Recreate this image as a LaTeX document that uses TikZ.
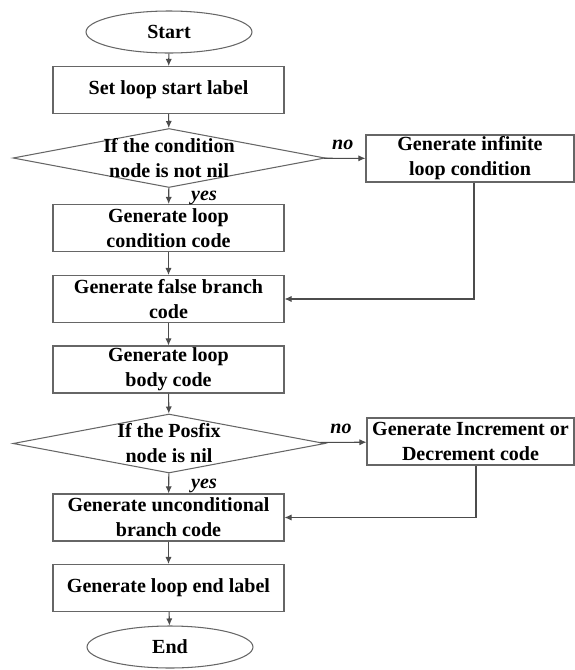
\documentclass[tikz,border=0pt]{standalone}
\usepackage{fontspec}
\setmainfont{Liberation Serif}
\usetikzlibrary{shapes.geometric,arrows.meta}
\begin{document}
\begin{tikzpicture}[x=0.02cm, y=-0.02cm, font=\fontsize{11.4}{14.2}\selectfont\bfseries,
	every node/.style={draw=black!60, line width=0.6pt, align=center, inner sep=0pt},
	box/.style={rectangle, minimum width=4.62cm, minimum height=0.94cm},
	term/.style={ellipse, minimum width=3.32cm, minimum height=0.84cm},
	decision/.style={diamond, minimum width=6.24cm, minimum height=1.18cm},
	lbl/.style={draw=none, font=\fontsize{11.4}{14.2}\selectfont\bfseries\itshape},
	flow/.style={-{Latex[length=4pt,width=3.5pt]}, draw=black!70, line width=0.6pt}]
		\useasboundingbox (0,0) rectangle (575,670);
		\node[term] (start) at (169,32) {Start};
		\node[box] (setlbl) at (168.5,90) {Set loop start label};
		\node[decision, label={[draw=none]center:If the condition\\node is not nil}] (cond) at (169,158) {};
		\node[box, minimum width=4.16cm] (infcond) at (470,158.5) {Generate infinite\\loop condition};
		\node[box] (loopcond) at (168.5,228) {Generate loop\\condition code};
		\node[box] (falsebr) at (168.5,299) {Generate false branch\\code};
		\node[box] (body) at (168.5,369.5) {Generate loop\\body code};
		\node[decision, label={[draw=none]center:If the Posfix\\node is nil}] (posfix) at (169,443.5) {};
		\node[box, minimum width=4.14cm] (incdec) at (470.5,441.5) {Generate Increment or\\Decrement code};
		\node[box] (uncond) at (168.5,517.5) {Generate unconditional\\branch code};
		\node[box] (endlbl) at (168.5,588) {Generate loop end label};
		\node[term] (stop) at (170,647) {End};
		\draw[flow] (start) -- (setlbl);
		\draw[flow] (setlbl) -- (cond);
		\draw[flow] (cond) -- node[lbl, anchor=south, pos=0.45, yshift=0.16cm] {no} (infcond);
		\draw[flow] (cond) -- node[lbl, anchor=west, pos=0.6, xshift=0.44cm] {yes} (loopcond);
		\draw[flow] ([xshift=0.08cm]infcond.south) |- (falsebr);
		\draw[flow] (loopcond) -- (falsebr);
		\draw[flow] (falsebr) -- (body);
		\draw[flow] (body) -- (posfix);
		\draw[flow] (posfix) -- node[lbl, anchor=south, pos=0.45, yshift=0.16cm] {no} (incdec);
		\draw[flow] (posfix) -- node[lbl, anchor=west, pos=0.6, xshift=0.44cm] {yes} (uncond);
		\draw[flow] ([xshift=0.11cm]incdec.south) |- (uncond);
		\draw[flow] (uncond) -- (endlbl);
		\draw[flow] (endlbl) -- (stop);
	\end{tikzpicture}
\end{document}
